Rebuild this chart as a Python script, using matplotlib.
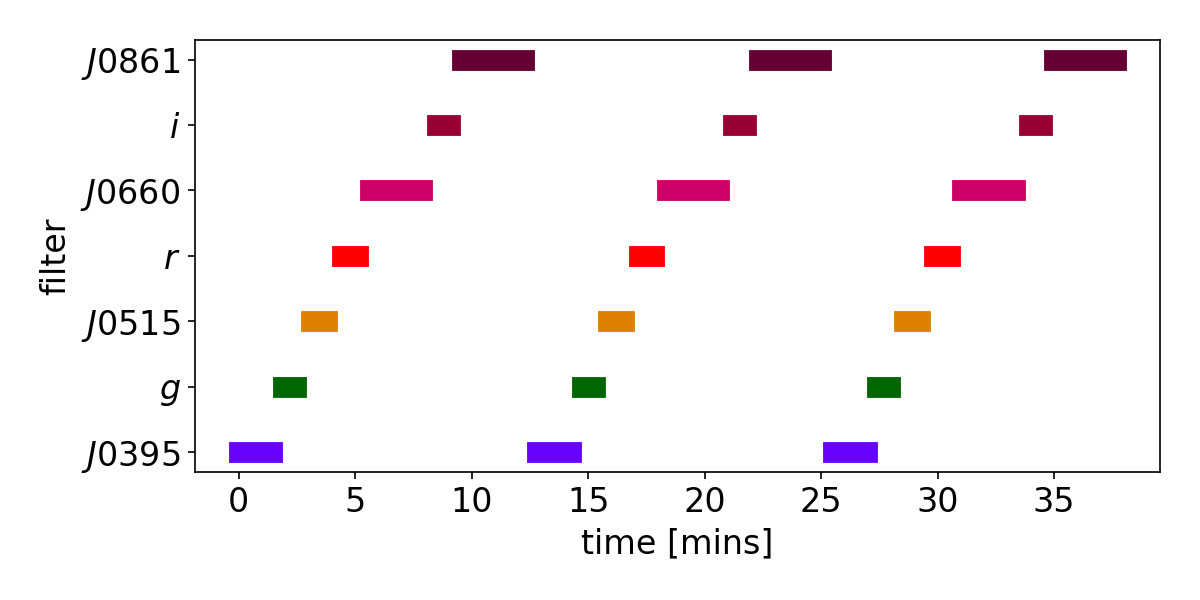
import matplotlib
matplotlib.use('Agg')
import matplotlib.pyplot as plt

# filters, bottom to top
filters = ['J0395', 'g', 'J0515', 'r', 'J0660', 'i', 'J0861']
labels = ['$J0395$', '$g$', '$J0515$', '$r$', '$J0660$', '$i$', '$J0861$']
colors = ['#6600ff', '#006600', '#dd8000', '#ff0000', '#cc0066', '#990033', '#660033']

# exposure windows per filter: (start, end) in minutes, one per cycle
starts = {
	'J0395': [0.0, 12.81, 25.50],
	'g':     [1.91, 14.73, 27.42],
	'J0515': [3.11, 15.87, 28.56],
	'r':     [4.43, 17.16, 29.85],
	'J0660': [5.63, 18.37, 31.04],
	'i':     [8.49, 21.21, 33.92],
	'J0861': [9.60, 22.32, 35.01],
}
ends = {
	'J0395': [1.43, 14.27, 26.96],
	'g':     [2.47, 15.28, 27.96],
	'J0515': [3.78, 16.54, 29.24],
	'r':     [5.10, 17.83, 30.53],
	'J0660': [7.88, 20.61, 33.32],
	'i':     [9.05, 21.79, 34.49],
	'J0861': [12.26, 24.98, 37.67],
}

fig = plt.figure(figsize=(8, 4), dpi=150)
ax = fig.add_subplot(111)
fig.subplots_adjust(left=0.1625, right=0.9667, bottom=0.2138, top=0.9333)

for k, f in enumerate(filters):
	for s, e in zip(starts[f], ends[f]):
		ax.plot([s, e], [k, k], color=colors[k], lw=10, solid_capstyle='projecting')

ax.set_yticks(range(len(filters)))
ax.set_yticklabels(labels)
ax.tick_params(labelsize=16)
ax.set_xlabel('time [mins]', fontsize=16)
ax.set_ylabel('filter', fontsize=16)

fig.savefig('out.png', dpi=150)
